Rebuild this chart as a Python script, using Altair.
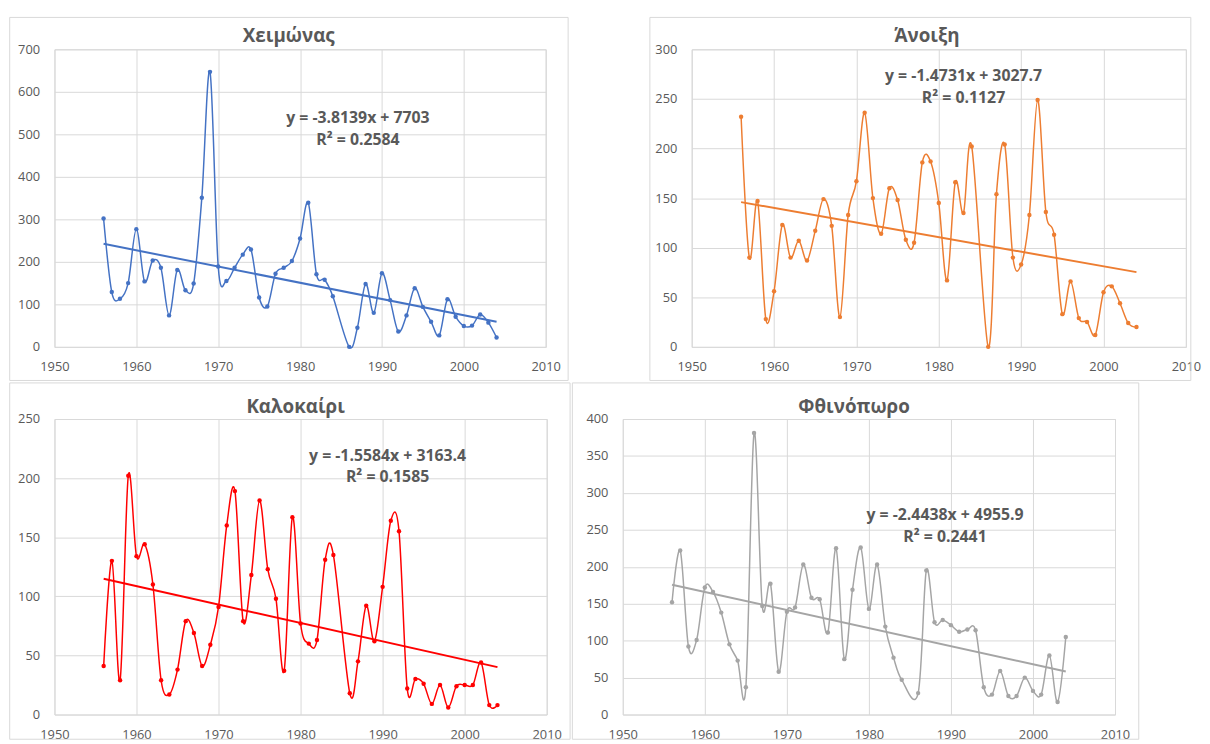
import altair as alt
import pandas as pd

years = list(range(1956, 1985)) + list(range(1986, 2005))

winter = [302, 129, 113, 150, 277, 154, 203, 186, 74, 181, 133, 149, 351, 647, 189,
          155, 186, 217, 229, 116, 95, 172, 186, 202, 255, 339, 171, 158, 119,
          0, 45, 148, 80, 173, 110, 36, 74, 138, 94, 59, 27, 112, 71, 49, 50, 76, 57, 22]
spring = [232, 90, 147, 28, 56, 123, 90, 107, 87, 117, 149, 122, 30, 133, 167,
          236, 150, 114, 160, 148, 108, 105, 186, 187, 145, 67, 166, 135, 202,
          0, 154, 204, 90, 83, 133, 249, 136, 113, 33, 66, 29, 25, 12, 55, 61, 44, 24, 20]
summer = [41, 130, 29, 202, 134, 144, 110, 29, 17, 38, 79, 69, 41, 59, 91,
          160, 189, 79, 118, 181, 123, 98, 37, 167, 77, 60, 63, 131, 135,
          18, 45, 92, 62, 108, 164, 155, 22, 30, 26, 9, 25, 6, 24, 25, 25, 44, 8, 8]
autumn = [152, 222, 92, 101, 172, 166, 138, 95, 73, 37, 381, 147, 177, 58, 139,
          145, 203, 158, 156, 111, 225, 75, 169, 226, 143, 203, 119, 77, 47,
          29, 195, 125, 128, 121, 112, 115, 114, 37, 27, 59, 25, 25, 50, 32, 27, 80, 17, 105]

titles = ["Χειμώνας", "Άνοιξη", "Καλοκαίρι", "Φθινόπωρο"]
equations = ["y = -3.8139x + 7703", "y = -1.4731x + 3027.7",
             "y = -1.5584x + 3163.4", "y = -2.4438x + 4955.9"]
r2_labels = ["R² = 0.2584", "R² = 0.1127", "R² = 0.1585", "R² = 0.2441"]
colors = ["#4472C4", "#ED7D31", "#FF0000", "#A5A5A5"]
x_ticks = [1950, 1960, 1970, 1980, 1990, 2000, 2010]

GREY = "#595959"
GRID = "#d9d9d9"
FONT = "Open Sans"


def panel(i, vals, ymax, ystep, w, h, eqx, eqy, border, tx, ty):
    df = pd.DataFrame({"year": years, "value": vals})
    color = colors[i]
    base = alt.Chart(df)
    x = alt.X("year:Q",
              scale=alt.Scale(domain=[1950, 2010], nice=False, zero=False),
              axis=alt.Axis(values=x_ticks, format="d", title=None))
    y = alt.Y("value:Q",
              scale=alt.Scale(domain=[0, ymax], nice=False),
              axis=alt.Axis(values=list(range(0, ymax + 1, ystep)), title=None))
    one = alt.Chart(pd.DataFrame({"k": [0]}))
    frame = one.mark_rect(fillOpacity=0, stroke=GRID, strokeWidth=1).encode(
        x=alt.value(border[0]), x2=alt.value(border[1]),
        y=alt.value(border[2]), y2=alt.value(border[3]))
    line = base.mark_line(interpolate="cardinal", color=color, strokeWidth=1.5).encode(x=x, y=y)
    pts = base.mark_circle(color=color, size=20, opacity=1).encode(x=x, y=y)
    trend = base.transform_regression("year", "value").mark_line(
        color=color, strokeWidth=2).encode(x=x, y=y)
    ttl = one.mark_text(fontSize=19, fontWeight="bold", color=GREY, font=FONT,
                        align="center", baseline="middle").encode(
        x=alt.value(tx), y=alt.value(ty), text=alt.value(titles[i]))
    eq = one.mark_text(fontSize=16, fontWeight="bold", color=GREY, font=FONT,
                       align="center", baseline="middle").encode(
        x=alt.value(eqx), y=alt.value(eqy), text=alt.value(equations[i]))
    r2 = one.mark_text(fontSize=16, fontWeight="bold", color=GREY, font=FONT,
                       align="center", baseline="middle").encode(
        x=alt.value(eqx), y=alt.value(eqy + 22), text=alt.value(r2_labels[i]))
    return alt.layer(frame, line, pts, trend, ttl, eq, r2).properties(width=w, height=h)


p1 = panel(0, winter, 700, 100, 497, 301, 307, 70,
           (-45.3, 519.7, -32.3, 335), 237, -13)
p2 = panel(1, spring, 300, 50, 500, 301, 275, 27,
           (-42.3, 505, -32.3, 335), 238, -13)
p3 = panel(2, summer, 250, 50, 498, 299, 337, 37,
           (-45.3, 521.7, -36.5, 324), 244, -12.5)
p4 = panel(3, autumn, 400, 50, 498, 299, 326, 97,
           (-51, 522, -36.5, 324), 234, -12.5)

row1 = alt.HConcatChart(hconcat=[p1, p2], spacing=79.7)
row2 = alt.HConcatChart(hconcat=[p3, p4], spacing=0)

chart = alt.VConcatChart(vconcat=[row1, row2], spacing=0).properties(
    padding={"left": 0, "top": 3.5, "right": 0, "bottom": 0}
).configure_view(stroke=GRID, strokeWidth=1).configure_axis(
    grid=True, gridColor=GRID, gridWidth=1, domain=False, ticks=False,
    labelFont=FONT, labelFontSize=13, labelColor=GREY,
    labelFlush=False, labelOverlap=False
).configure_axisX(labelPadding=14).configure_axisY(labelPadding=15)

chart.save("out.html", embed_options={"renderer": "svg", "actions": False})
